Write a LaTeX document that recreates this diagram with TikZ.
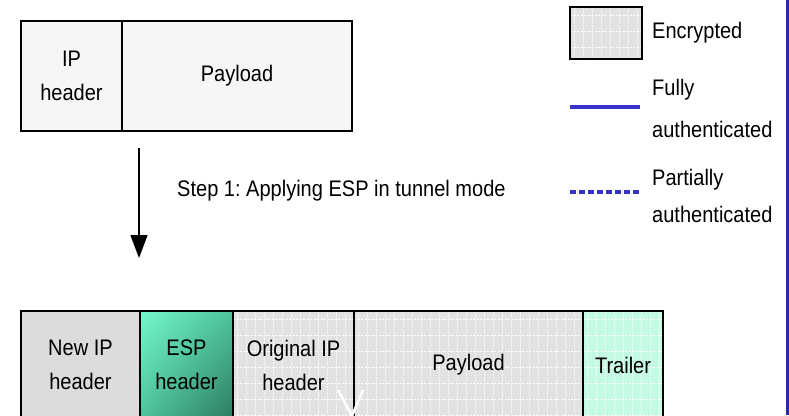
\documentclass[tikz,border=0pt]{standalone}
\usepackage{fontspec}
\newfontfamily\labfont{Liberation Sans}[FakeStretch=0.89]
\usetikzlibrary{arrows.meta,shadings}
\definecolor{topfill}{HTML}{F6F6F6}
\definecolor{newipfill}{HTML}{DCDCDC}
\definecolor{encfill}{HTML}{E2E2E2}
\definecolor{trailfill}{HTML}{C4FAE4}
\definecolor{esplight}{HTML}{74F8CA}
\definecolor{espmid}{HTML}{4EC39B}
\definecolor{espdark}{HTML}{2C7A60}
\definecolor{authblue}{HTML}{3434C8}
\definecolor{barblue}{HTML}{2A2AAE}
\tikzset{
  lab/.style={font=\labfont\fontsize{22.5}{34}\selectfont\frenchspacing, text=black},
  cell/.style={draw=black, line width=1.3pt, inner sep=0pt, align=center, lab},
  encpattern/.style={path picture={
      \foreach \xx in {4,13,...,400}
        \draw[white, opacity=0.7, line width=0.8pt, dash pattern=on 1.5pt off 1.5pt]
          ([xshift=\xx pt]path picture bounding box.north west) -- ([xshift=\xx pt]path picture bounding box.south west);
      \foreach \yy in {8,24,...,200}
        \draw[white, line width=1pt, dash pattern=on 2pt off 1.5pt]
          ([yshift=-\yy pt]path picture bounding box.north west) -- ([yshift=-\yy pt]path picture bounding box.north east);
  }},
  enc/.style={cell, fill=encfill, encpattern},
  legtext/.style={lab, anchor=west, inner sep=0pt, align=left},
}
\begin{document}
\begin{tikzpicture}[x=1pt,y=-1pt]
\useasboundingbox (0,0) rectangle (789,415);
\clip (0,0) rectangle (789,415);
\fill[white] (0,0) rectangle (789,415);

% top packet
\node[cell, fill=topfill, minimum width=101pt, minimum height=110pt] (iph) at (71.5,76) {IP\\header};
\node[cell, fill=topfill, minimum width=230pt, minimum height=110pt] (pay) at (237,76) {Payload};

% arrow and step label
\coordinate (astart) at (139,148);
\coordinate (aend) at (139,258);
\draw[line width=1.3pt, -{Triangle[width=17pt,length=23pt]}] (astart) -- (aend);
\node[lab, anchor=west, inner sep=0pt] (step) at (177,191) {Step 1: Applying ESP in tunnel mode};

% bottom packet
\node[cell, fill=newipfill, minimum width=119pt, minimum height=108pt] (newip) at (80.5,365) {New IP\\header};
\node[cell, upper left=esplight, upper right=espmid, lower left=espmid, lower right=espdark, minimum width=93pt, minimum height=108pt] (esp) at (186.5,365) {ESP\\header};
\node[enc, minimum width=121pt, minimum height=108pt] (origip) at (293.5,365) {Original IP\\header};
\node[enc, minimum width=229pt, minimum height=108pt] (pay2) at (468.5,365) {Payload};
\node[enc, fill=trailfill, minimum width=80pt, minimum height=108pt] (trail) at (623,365) {Trailer};

% white V mark
\coordinate (vl) at (338,390);
\coordinate (vb) at (352,416);
\coordinate (vr) at (363,390);
\draw[white, line width=2.6pt] (vl) -- (vb) -- (vr);

% legend
\node[enc, minimum width=72pt, minimum height=52pt] (legenc) at (606,33) {};
\node[legtext] (tenc) at (652,33) {Encrypted};
\coordinate (fa) at (570,107);
\coordinate (fb) at (640,107);
\draw[authblue, line width=4pt] (fa) -- (fb);
\node[legtext] (tfully) at (652,90) {Fully};
\node[legtext] (tfully2) at (652,129) {authenticated};
\coordinate (pa) at (570,192);
\coordinate (pb) at (641,192);
\draw[authblue, line width=4pt, dash pattern=on 6pt off 3pt] (pa) -- (pb);
\node[legtext] (tpart) at (652,180) {Partially};
\node[legtext] (tpart2) at (652,214) {authenticated};

% right blue bar
\fill[barblue] (786,0) rectangle (789,415);
\end{tikzpicture}
\end{document}
